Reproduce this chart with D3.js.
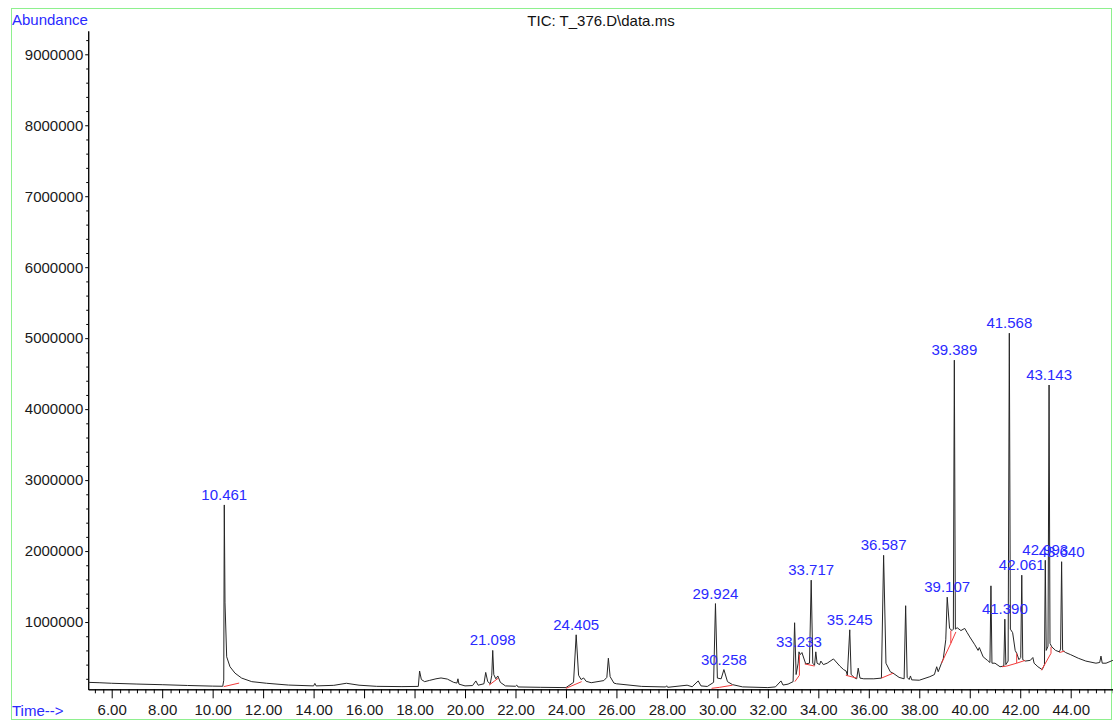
<!DOCTYPE html>
<html>
<head>
<meta charset="utf-8">
<script src="https://cdn.jsdelivr.net/npm/d3@7"></script>
<style>
  body { margin: 0; background: #fff; }
  svg { display: block; font-family: "Liberation Sans", Arial, sans-serif; }
</style>
</head>
<body>
<svg id="tic" width="1113" height="721"></svg>
<script>
// retention time (min) / abundance pairs of the TIC trace
const trace = [
    [5.07,150000],[5.5,145000],[6.0,137000],[7.0,126000],[8.0,117000],[9.0,106000],[10.0,97000],
    [10.40,95000],[10.44,180000],[10.461,2650000],[10.49,1270000],[10.556,510000],[10.687,370000],
    [10.885,280000],[11.15,210000],[11.55,160000],[12.14,137000],[13.0,112000],[14.0,100000],
    [14.05,135000],[14.1,100000],[14.8,108000],[15.3,137000],[15.8,110000],[16.5,94000],[17.5,90000],
    [18.15,93000],[18.2,310000],[18.27,190000],[18.4,160000],[18.6,178000],[18.85,200000],[19.05,212000],
    [19.3,196000],[19.55,150000],[19.68,140000],[19.72,200000],[19.76,125000],[20.0,100000],[20.3,105000],
    [20.43,170000],[20.52,110000],[20.75,130000],[20.82,290000],[20.9,160000],[21.0,130000],[21.06,250000],
    [21.098,600000],[21.14,260000],[21.22,200000],[21.3,240000],[21.4,150000],[21.6,100000],[22.0,95000],
    [22.05,112000],[22.1,85000],[23.0,80000],[24.0,76000],[24.3,150000],[24.405,820000],[24.5,250000],
    [24.6,190000],[24.7,212000],[24.8,165000],[25.0,145000],[25.5,175000],[25.62,220000],[25.68,490000],
    [25.75,230000],[25.9,140000],[26.0,130000],[27.0,93000],[27.95,85000],[27.99,102000],[28.03,80000],
    [28.8,110000],[29.0,88000],[29.24,170000],[29.35,100000],[29.6,92000],[29.85,150000],[29.924,1260000],
    [30.0,210000],[30.15,200000],[30.258,330000],[30.4,160000],[30.6,118000],[31.0,86000],[32.0,76000],
    [32.3,86000],[32.52,170000],[32.6,112000],[32.8,125000],[33.0,160000],[33.06,990000],[33.12,260000],
    [33.2,420000],[33.233,580000],[33.28,540000],[33.35,570000],[33.5,410000],[33.65,420000],
    [33.717,1590000],[33.78,420000],[33.85,390000],[33.9,580000],[33.95,420000],[34.05,400000],
    [34.1,450000],[34.2,400000],[34.35,420000],[34.6,480000],[34.85,380000],[35.0,330000],[35.1,310000],
    [35.15,250000],[35.245,890000],[35.3,260000],[35.45,210000],[35.52,200000],[35.58,350000],
    [35.65,210000],[35.8,200000],[36.2,200000],[36.5,210000],[36.587,1940000],[36.68,420000],
    [36.85,300000],[37.0,270000],[37.2,220000],[37.4,200000],[37.46,1230000],[37.52,220000],[37.6,190000],
    [37.65,240000],[37.7,185000],[38.0,180000],[38.42,230000],[38.6,260000],[38.69,370000],[38.75,300000],
    [38.88,420000],[38.95,480000],[39.05,750000],[39.107,1350000],[39.2,910000],[39.3,880000],
    [39.35,900000],[39.389,4690000],[39.43,900000],[39.5,920000],[39.65,880000],[39.8,910000],
    [39.9,850000],[40.0,790000],[40.2,680000],[40.33,600000],[40.38,640000],[40.53,510000],[40.7,460000],
    [40.8,430000],[40.84,1510000],[40.88,420000],[41.0,420000],[41.2,370000],[41.35,380000],
    [41.39,1040000],[41.43,400000],[41.52,450000],[41.568,5070000],[41.61,900000],[41.7,850000],
    [41.8,600000],[41.86,560000],[41.95,470000],[42.02,500000],[42.061,1660000],[42.1,470000],
    [42.2,450000],[42.4,460000],[42.5,500000],[42.55,420000],[42.7,370000],[42.87,330000],[42.96,400000],
    [42.993,1870000],[43.03,600000],[43.1,660000],[43.143,4340000],[43.18,700000],[43.25,650000],
    [43.4,600000],[43.55,580000],[43.6,620000],[43.64,1850000],[43.68,600000],[43.8,570000],[44.0,540000],
    [44.3,490000],[44.6,450000],[45.0,420000],[45.15,430000],[45.2,520000],[45.25,420000],[45.4,420000],
    [45.67,460000]
];

// integrated peaks: label, retention time, apex abundance
const peakLabels = ["10.461","21.098","24.405","29.924","30.258","33.233","33.717","35.245","36.587",
    "39.107","39.389","41.390","41.568","42.061","42.993","43.143","43.640"];
const peakTimes = [10.461,21.098,24.405,29.924,30.258,33.233,33.717,35.245,36.587,
    39.107,39.389,41.390,41.568,42.061,42.993,43.143,43.640];
const peakHeights = [2650000,600000,820000,1260000,330000,580000,1590000,890000,1940000,
    1350000,4690000,1040000,5070000,1660000,1870000,4340000,1850000];

// integration baselines: [t1, abundance1, t2, abundance2]
const baselines = [
    [10.44,90000,11.05,140000],[20.95,110000,21.32,210000],[24.0,66000,24.62,160000],
    [29.77,66000,30.09,80000],[30.09,80000,30.6,110000],[33.07,160000,33.25,250000],
    [33.25,250000,33.25,540000],[33.46,410000,33.85,380000],[35.09,250000,35.52,210000],
    [36.5,210000,36.97,280000],[38.88,420000,39.25,700000],[39.25,700000,39.25,880000],
    [39.25,700000,39.45,860000],[41.28,370000,41.47,380000],[41.47,380000,41.86,420000],
    [41.86,420000,41.86,560000],[41.86,420000,42.2,460000],[42.84,320000,43.22,560000],
    [43.22,560000,43.22,650000],[43.55,570000,43.75,590000]
];

const timeTicks = [6,8,10,12,14,16,18,20,22,24,26,28,30,32,34,36,38,40,42,44];
const abundanceTicks = [1000000,2000000,3000000,4000000,5000000,6000000,7000000,8000000,9000000];
const timeRange = [5.07, 45.67];
const abundanceRange = [52000, 9330000];

const svg = d3.select("#tic");

const x = d3.scaleLinear().domain([6, 44]).range([111.7, 1070.7]);
const y = d3.scaleLinear().domain([0, 9000000]).range([693, 54.3]);

// axis scales span the drawn extent of each axis
const xAxisScale = x.copy().domain(timeRange).range(timeRange.map(x));
const yAxisScale = y.copy().domain(abundanceRange).range(abundanceRange.map(y));

// frame
svg.append("rect")
    .attr("x", 11.5).attr("y", 8.5)
    .attr("width", 1100).attr("height", 711)
    .attr("fill", "none")
    .attr("stroke", "#8ef08e");

svg.append("text")
    .attr("x", 12).attr("y", 25)
    .attr("fill", "#2a2aff")
    .attr("font-size", 15)
    .text("Abundance");

svg.append("text")
    .attr("x", 601).attr("y", 26)
    .attr("text-anchor", "middle")
    .attr("fill", "#111")
    .attr("font-size", 15)
    .text("TIC: T_376.D\\data.ms");

svg.append("text")
    .attr("x", 12).attr("y", 715.5)
    .attr("fill", "#2a2aff")
    .attr("font-size", 15)
    .text("Time-->");

// x axis
const xMinor = d3.range(5 + 1 / 3, 45.7, 1 / 3).filter(function (t) {
    return t >= timeRange[0] && Math.abs(t - Math.round(t / 2) * 2) > 0.01;
});
const xAxisG = svg.append("g").attr("transform", `translate(0, ${y(abundanceRange[0])})`);
xAxisG.append("g")
    .call(d3.axisBottom(xAxisScale).tickValues(xMinor).tickSize(4).tickFormat("").tickSizeOuter(0));
xAxisG.append("g")
    .call(d3.axisBottom(xAxisScale).tickValues(timeTicks).tickSize(9).tickPadding(6)
        .tickFormat(d3.format(".2f")).tickSizeOuter(0));

// y axis
const yMinor = d3.range(200000, 9300000, 200000).filter(function (v) { return v % 1000000 !== 0; });
const yAxisG = svg.append("g").attr("transform", `translate(${x(timeRange[0])}, 0)`);
yAxisG.append("g")
    .call(d3.axisLeft(yAxisScale).tickValues(yMinor).tickSize(2).tickFormat("").tickSizeOuter(0));
yAxisG.append("g")
    .call(d3.axisLeft(yAxisScale).tickValues(abundanceTicks).tickSize(3).tickPadding(2)
        .tickFormat(d3.format("d")).tickSizeOuter(0));

svg.selectAll(".tick text").attr("font-size", 15).attr("fill", "#1a1a1a")
    .attr("font-family", "'Liberation Sans', Arial, sans-serif");
svg.selectAll(".domain, .tick line").attr("stroke", "#000");

// trace
const line = d3.line()
    .x(function (d) { return x(d[0]); })
    .y(function (d) { return y(d[1]); });

svg.append("path")
    .datum(trace)
    .attr("d", line)
    .attr("fill", "none")
    .attr("stroke", "#262626")
    .attr("stroke-width", 1);

// integration baselines
svg.append("g")
    .selectAll("line")
    .data(baselines)
    .join("line")
    .attr("x1", function (d) { return x(d[0]); })
    .attr("y1", function (d) { return y(d[1]); })
    .attr("x2", function (d) { return x(d[2]); })
    .attr("y2", function (d) { return y(d[3]); })
    .attr("stroke", "#f23a3a")
    .attr("stroke-width", 1);

// peak labels
svg.append("g")
    .selectAll("text")
    .data(peakLabels)
    .join("text")
    .attr("x", function (d, i) { return x(peakTimes[i]); })
    .attr("y", function (d, i) { return y(peakHeights[i]) - 5; })
    .attr("text-anchor", "middle")
    .attr("fill", "#2a2aff")
    .attr("font-size", 15)
    .text(function (d) { return d; });
</script>
</body>
</html>
